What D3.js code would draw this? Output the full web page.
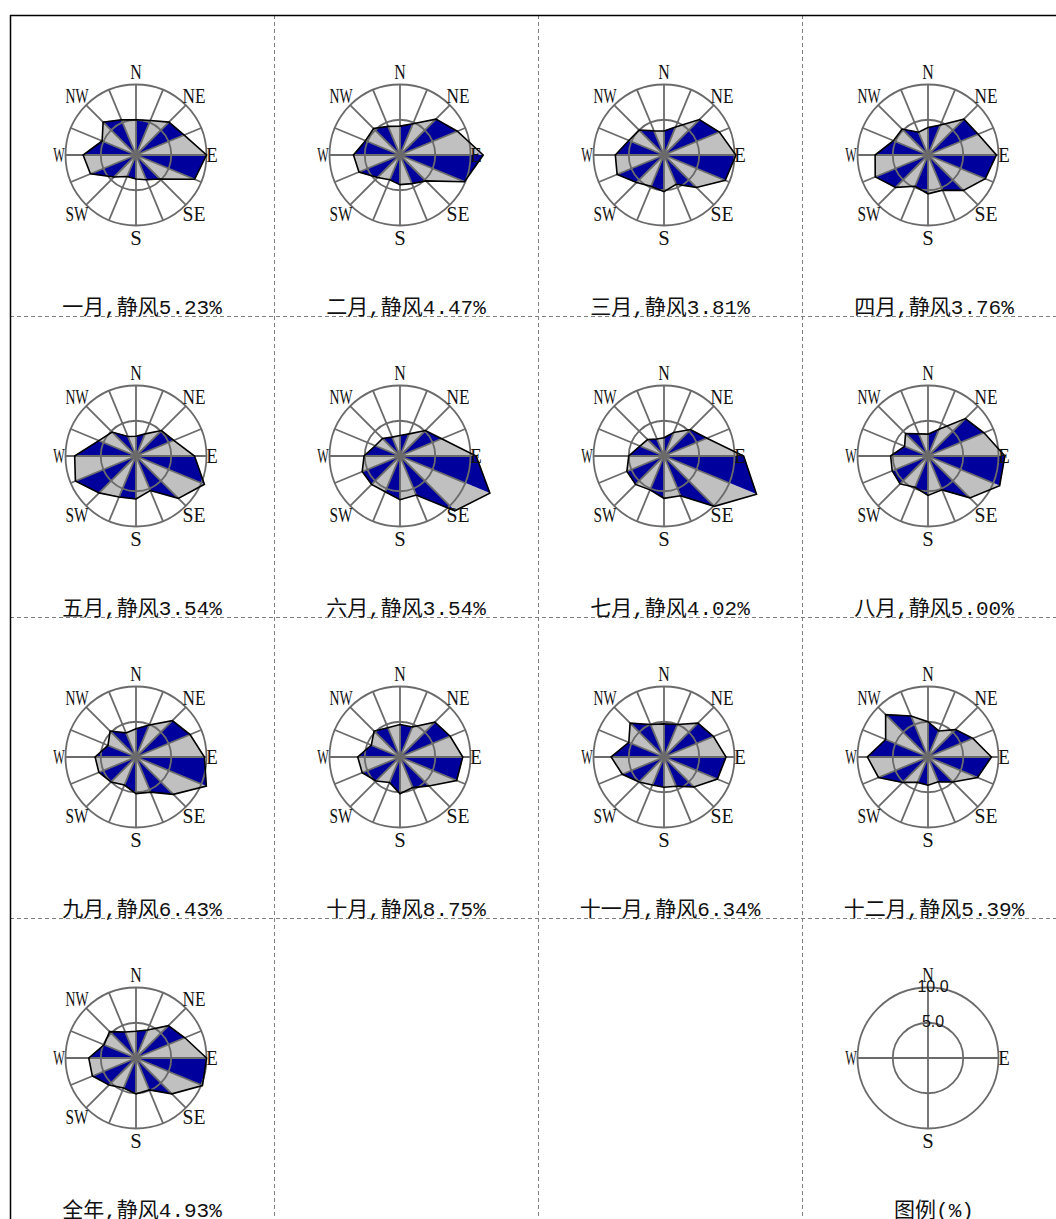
<!DOCTYPE html>
<html>
<head>
<meta charset="utf-8">
<script src="https://cdn.jsdelivr.net/npm/d3@7/dist/d3.min.js"></script>
<style>
  html, body { margin: 0; padding: 0; background: #fff; }
  svg { display: block; }
</style>
</head>
<body>
<svg id="chart" width="1056" height="1219"></svg>
<script>
// 16 compass points, clockwise from north
const directions = ["N","NNE","NE","ENE","E","ESE","SE","SSE","S","SSW","SW","WSW","W","WNW","NW","NNW"];
const compassLabels = ["N","NE","E","SE","S","SW","W","NW"];

// wind direction frequency (%) per direction, N..NNW
const jan = [5.0, 5.3, 6.6, 7.4, 10.0, 9.0, 4.8, 3.8, 3.4, 3.3, 4.4, 7.0, 7.5, 5.2, 6.6, 5.4];
const feb = [4.1, 4.8, 7.2, 8.8, 11.8, 9.9, 5.2, 4.4, 4.2, 3.8, 4.5, 6.3, 6.6, 5.3, 5.3, 4.4];
const mar = [3.4, 4.3, 7.1, 8.5, 10.2, 9.4, 6.5, 4.5, 5.2, 4.8, 5.5, 7.2, 6.9, 5.4, 5.0, 3.7];
const apr = [3.9, 4.6, 7.2, 7.7, 9.7, 8.8, 7.1, 5.4, 5.5, 4.8, 6.5, 8.1, 7.5, 5.3, 5.2, 3.5];
const may = [2.8, 3.4, 5.1, 5.8, 8.3, 10.5, 8.5, 5.3, 6.1, 6.3, 7.4, 9.3, 8.7, 5.7, 4.8, 3.0];
const jun = [2.9, 3.4, 5.1, 6.4, 10.8, 13.8, 11.0, 6.0, 6.2, 5.5, 5.7, 5.8, 5.1, 3.8, 3.5, 2.9];
const jul = [2.6, 3.6, 5.3, 6.6, 11.3, 14.2, 10.1, 6.1, 6.0, 5.2, 5.7, 5.7, 5.0, 3.7, 3.3, 2.6];
const aug = [3.1, 4.1, 7.5, 8.6, 10.9, 11.0, 8.4, 5.2, 5.6, 4.8, 5.6, 5.5, 5.3, 3.6, 4.5, 3.4];
const sep = [4.0, 4.9, 7.3, 8.3, 9.7, 10.8, 7.5, 5.4, 5.2, 4.3, 5.0, 5.7, 5.8, 4.3, 5.2, 3.7];
const oct = [4.6, 4.6, 7.0, 7.7, 8.9, 8.7, 5.8, 4.7, 5.2, 3.9, 4.8, 5.8, 6.0, 4.4, 5.2, 4.5];
const nov = [4.7, 5.0, 6.8, 7.6, 8.8, 8.2, 6.0, 4.5, 4.3, 4.3, 5.0, 6.4, 7.5, 5.4, 6.8, 5.0];
const dec = [5.0, 4.0, 5.5, 6.9, 9.0, 7.6, 5.0, 3.8, 4.0, 3.9, 5.1, 7.6, 8.6, 6.5, 8.5, 6.3];
const annual = [3.8, 4.3, 6.5, 7.5, 10.0, 10.2, 7.2, 4.9, 5.1, 4.6, 5.4, 6.7, 6.7, 4.9, 5.3, 4.0];

const periodNames = ["一月","二月","三月","四月","五月","六月","七月","八月","九月","十月","十一月","十二月","全年"];
const calmPct = [5.23, 4.47, 3.81, 3.76, 3.54, 3.54, 4.02, 5.00, 6.43, 8.75, 6.34, 5.39, 4.93];
const roseSeries = [jan, feb, mar, apr, may, jun, jul, aug, sep, oct, nov, dec, annual];

// legend rings
const legendRings = [5, 10];
const legendTickLabels = ["5.0", "10.0"];
const legendTitle = "图例(%)";

// ---- layout ----
const svg = d3.select("#chart");
const W = 1056, H = 1219;
const x0 = 10, y0 = 15, colW = 264, rowH = 301, nCols = 4, nRows = 4;
const roseDx = 126, roseDy = 140;
const R = 70.5;

const rScale = d3.scaleLinear().domain([0, 10]).range([0, R]);
const aScale = d3.scaleLinear().domain([0, directions.length]).range([0, 2 * Math.PI]);

const BLUE = "#00009c", GRAY = "#c0c0c0", GRID = "#6b6b6b";
const latinFont = "'Liberation Serif', 'DejaVu Serif', serif";
const titleFont = "'Liberation Mono', 'Noto Sans CJK SC', monospace";

// ---- table grid ----
const grid = svg.append("g");
for (let c = 1; c < nCols; c++) {
  grid.append("line")
    .attr("x1", x0 + c * colW + 0.5).attr("x2", x0 + c * colW + 0.5)
    .attr("y1", y0).attr("y2", H)
    .attr("stroke", "#7f7f7f").attr("stroke-width", 1).attr("stroke-dasharray", "4,3");
}
for (let r = 1; r < nRows; r++) {
  grid.append("line")
    .attr("x1", x0).attr("x2", W)
    .attr("y1", y0 + r * rowH + 0.5).attr("y2", y0 + r * rowH + 0.5)
    .attr("stroke", "#7f7f7f").attr("stroke-width", 1).attr("stroke-dasharray", "4,3");
}
grid.append("line").attr("x1", x0).attr("x2", W).attr("y1", y0 + 0.5).attr("y2", y0 + 0.5)
  .attr("stroke", "#000").attr("stroke-width", 1.5);
grid.append("line").attr("x1", x0 + 0.5).attr("x2", x0 + 0.5).attr("y1", y0).attr("y2", H)
  .attr("stroke", "#000").attr("stroke-width", 1.5);

// compass letter placement (offset from rose centre)
const labelOffset = {
  N: [0, -83], NE: [58, -59], E: [76, 0], SE: [58, 59],
  S: [0, 83], SW: [-59, 59], W: [-77, 0], NW: [-59, -59]
};

// narrow fixed-pitch letters, about 11.5px per character
function compassText(g, name) {
  const [dx, dy] = labelOffset[name];
  g.append("text")
    .attr("x", dx).attr("y", dy)
    .attr("text-anchor", "middle")
    .attr("dominant-baseline", "central")
    .attr("font-family", latinFont)
    .attr("font-size", 21)
    .attr("textLength", 11.5 * name.length)
    .attr("lengthAdjust", "spacingAndGlyphs")
    .attr("fill", "#111")
    .text(name);
}

function cellOrigin(idx) {
  const c = idx % nCols, r = Math.floor(idx / nCols);
  return [x0 + c * colW, y0 + r * rowH];
}

function cellTitle(idx, text) {
  const [cx, cy] = cellOrigin(idx);
  svg.append("text")
    .attr("x", cx + colW / 2)
    .attr("y", cy + 299)
    .attr("text-anchor", "middle")
    .attr("font-family", titleFont)
    .attr("font-size", 21)
    .attr("fill", "#111")
    .text(text);
}

const radialLine = d3.lineRadial()
  .angle(d => aScale(d[0]))
  .radius(d => rScale(d[1]));

function drawRose(idx, values) {
  const [cx, cy] = cellOrigin(idx);
  const g = svg.append("g").attr("transform", `translate(${cx + roseDx},${cy + roseDy})`);
  const n = values.length;

  // alternating wedge triangles between neighbouring directions
  g.append("g").selectAll("path")
    .data(d3.range(n))
    .join("path")
    .attr("d", i => radialLine([[i, 0], [i, values[i]], [i + 1, values[(i + 1) % n]]]) + "Z")
    .attr("fill", i => i % 2 === 0 ? BLUE : GRAY)
    .attr("stroke", i => i % 2 === 0 ? BLUE : GRAY)
    .attr("stroke-width", 0.4);

  // rings and spokes
  g.append("g").selectAll("circle")
    .data(legendRings)
    .join("circle")
    .attr("r", d => rScale(d))
    .attr("fill", "none").attr("stroke", GRID).attr("stroke-width", 1.8);

  g.append("g").selectAll("line")
    .data(d3.range(n))
    .join("line")
    .attr("x1", 0).attr("y1", 0)
    .attr("x2", i => rScale(10) * Math.sin(aScale(i)))
    .attr("y2", i => -rScale(10) * Math.cos(aScale(i)))
    .attr("stroke", GRID).attr("stroke-width", 1.8);

  // outline
  g.append("path")
    .attr("d", d3.lineRadial()
      .angle((d, i) => aScale(i))
      .radius(d => rScale(d))
      .curve(d3.curveLinearClosed)(values))
    .attr("fill", "none").attr("stroke", "#000").attr("stroke-width", 1.6)
    .attr("stroke-linejoin", "miter");

  compassLabels.forEach(name => compassText(g, name));
}

roseSeries.forEach((vals, i) => {
  drawRose(i, vals);
  cellTitle(i, `${periodNames[i]},静风${calmPct[i].toFixed(2)}%`);
});

// ---- legend ----
(function drawLegend() {
  const idx = 15;
  const [cx, cy] = cellOrigin(idx);
  const g = svg.append("g").attr("transform", `translate(${cx + roseDx},${cy + roseDy})`);
  g.selectAll("circle")
    .data(legendRings)
    .join("circle")
    .attr("r", d => rScale(d))
    .attr("fill", "none").attr("stroke", GRID).attr("stroke-width", 1.8);
  [0, 4, 8, 12].forEach(i => {
    g.append("line")
      .attr("x1", 0).attr("y1", 0)
      .attr("x2", rScale(10) * Math.sin(aScale(i)))
      .attr("y2", -rScale(10) * Math.cos(aScale(i)))
      .attr("stroke", GRID).attr("stroke-width", 1.8);
  });
  ["N", "E", "S", "W"].forEach(name => compassText(g, name));
  legendRings.forEach((v, k) => {
    g.append("text")
      .attr("x", 5)
      .attr("y", -rScale(v) - 1)
      .attr("text-anchor", "middle")
      .attr("dominant-baseline", "central")
      .attr("font-family", "'Liberation Sans', Arial, sans-serif")
      .attr("font-size", 16)
      .attr("fill", "#111")
      .text(legendTickLabels[k]);
  });
  cellTitle(idx, legendTitle);
})();
</script>
</body>
</html>
